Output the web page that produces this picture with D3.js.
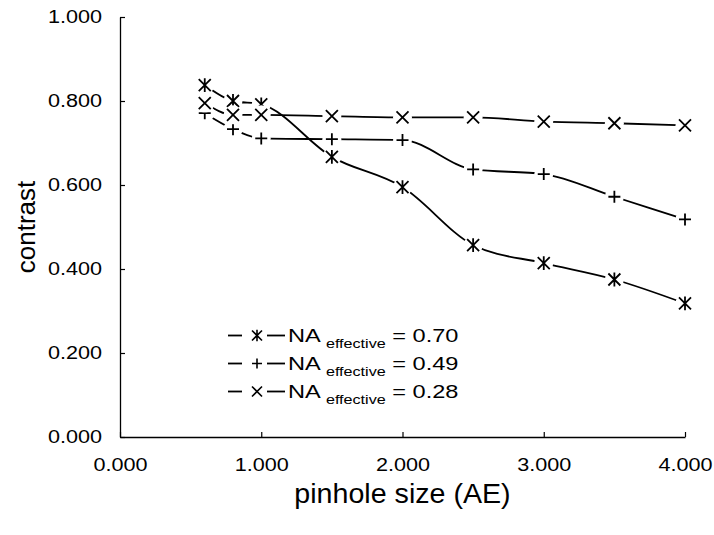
<!DOCTYPE html>
<html>
<head>
<meta charset="utf-8">
<script src="https://cdn.jsdelivr.net/npm/d3@7"></script>
<style>
  body { margin: 0; background: #fff; }
  text { font-family: "Liberation Sans", Arial, sans-serif; fill: #000; }
</style>
</head>
<body>
<svg id="chart" width="714" height="535"></svg>
<script>
// Contrast versus pinhole size for three effective numerical apertures
const pinhole = [0.6, 0.8, 1.0, 1.5, 2.0, 2.5, 3.0, 3.5, 4.0];
const contrastNA070 = [0.838, 0.800, 0.792, 0.667, 0.595, 0.457, 0.414, 0.375, 0.318];
const contrastNA049 = [0.771, 0.733, 0.711, 0.709, 0.707, 0.637, 0.626, 0.572, 0.518];
const contrastNA028 = [0.795, 0.767, 0.767, 0.764, 0.761, 0.761, 0.751, 0.747, 0.742];
const naLabels = ["0.70", "0.49", "0.28"];
const markerKinds = ["asterisk", "plus", "times"];
const xTicks = [0, 1, 2, 3, 4];
const yTicks = [0, 0.2, 0.4, 0.6, 0.8, 1.0];
const xTitle = "pinhole size (AE)";
const yTitle = "contrast";

const seriesValues = [contrastNA070, contrastNA049, contrastNA028];

// Labels in this chart use a slightly wide letterform
const WIDEN = 1.2;
function widen(sel, factor) {
  sel.each(function () {
    const w = this.getComputedTextLength();
    d3.select(this)
      .attr("textLength", w * factor)
      .attr("lengthAdjust", "spacingAndGlyphs");
  });
}

const svg = d3.select("#chart");
const x = d3.scaleLinear().domain([0, 4]).range([120, 685]);
const y = d3.scaleLinear().domain([0, 1]).range([437, 17]);
const fmt = d3.format(".3f");

// Axes: short inward ticks, labels with three decimals
const yAxis = svg.append("g")
  .attr("transform", `translate(${x(0)},0)`)
  .call(d3.axisLeft(y).tickValues(yTicks).tickFormat(fmt)
    .tickSizeInner(-5).tickSizeOuter(0).tickPadding(18));
const xAxis = svg.append("g")
  .attr("transform", `translate(0,${y(0)})`)
  .call(d3.axisBottom(x).tickValues(xTicks).tickFormat(fmt)
    .tickSizeInner(-5).tickSizeOuter(0).tickPadding(21));
[yAxis, xAxis].forEach(g => {
  g.select(".domain").attr("stroke", "#000").attr("stroke-width", 1.3);
  g.selectAll(".tick line").attr("stroke", "#000").attr("stroke-width", 1.2);
  g.selectAll(".tick text").attr("font-size", 18).attr("font-family", null)
    .call(widen, WIDEN);
});

// Axis titles
svg.append("text")
  .attr("x", (x(0) + x(4)) / 2).attr("y", 503)
  .attr("text-anchor", "middle").attr("font-size", 27)
  .text(xTitle)
  .call(widen, 1.06);
svg.append("text")
  .attr("transform", `translate(35,${(y(0) + y(1)) / 2}) rotate(-90)`)
  .attr("text-anchor", "middle").attr("font-size", 26)
  .text(yTitle);

// Marker shapes drawn as open strokes
function markerPath(kind, s) {
  const p = d3.path();
  if (kind === "times" || kind === "asterisk") {
    p.moveTo(-s, -s); p.lineTo(s, s);
    p.moveTo(-s, s); p.lineTo(s, -s);
  }
  if (kind === "asterisk") {
    p.moveTo(0, -s * 1.15); p.lineTo(0, s * 1.15);
  }
  if (kind === "plus") {
    p.moveTo(-s, 0); p.lineTo(s, 0);
    p.moveTo(0, -s); p.lineTo(0, s);
  }
  return p.toString();
}

// Smoothed lines
const line = d3.line()
  .x((d, i) => x(pinhole[i]))
  .y(d => y(d))
  .curve(d3.curveMonotoneX);

const plot = svg.append("g");
seriesValues.forEach(vals => {
  plot.append("path")
    .datum(vals)
    .attr("d", line)
    .attr("fill", "none")
    .attr("stroke", "#000")
    .attr("stroke-width", 1.8);
});

// Each marker sits in a small white clearing that breaks the line around it
seriesValues.forEach((vals, k) => {
  const g = plot.append("g");
  g.selectAll("circle")
    .data(vals)
    .join("circle")
    .attr("cx", (d, i) => x(pinhole[i]))
    .attr("cy", d => y(d))
    .attr("r", 9.5)
    .attr("fill", "#fff");
  g.selectAll("path")
    .data(vals)
    .join("path")
    .attr("transform", (d, i) => `translate(${x(pinhole[i])},${y(d)})`)
    .attr("d", markerPath(markerKinds[k], 6))
    .attr("fill", "none")
    .attr("stroke", "#000")
    .attr("stroke-width", 1.8);
});

// Legend
const legend = svg.append("g");
naLabels.forEach((lab, i) => {
  const base = 342 + i * 28;
  const row = legend.append("g").attr("transform", `translate(0,${base})`);
  row.append("line").attr("x1", 228).attr("x2", 242).attr("y1", -6.5).attr("y2", -6.5)
    .attr("stroke", "#000").attr("stroke-width", 1.8);
  row.append("line").attr("x1", 267).attr("x2", 285).attr("y1", -6.5).attr("y2", -6.5)
    .attr("stroke", "#000").attr("stroke-width", 1.8);
  row.append("path").attr("transform", "translate(257,-6.5)")
    .attr("d", markerPath(markerKinds[i], 5))
    .attr("fill", "none").attr("stroke", "#000").attr("stroke-width", 1.6);
  const t = row.append("text").attr("x", 288).attr("y", 0).attr("font-size", 19);
  t.append("tspan").text("NA ");
  t.append("tspan").attr("font-size", 13).attr("dy", 5.5).text("effective");
  t.append("tspan").attr("dy", -5.5).text(" = " + lab);
  t.call(widen, 1.24);
});
</script>
</body>
</html>
